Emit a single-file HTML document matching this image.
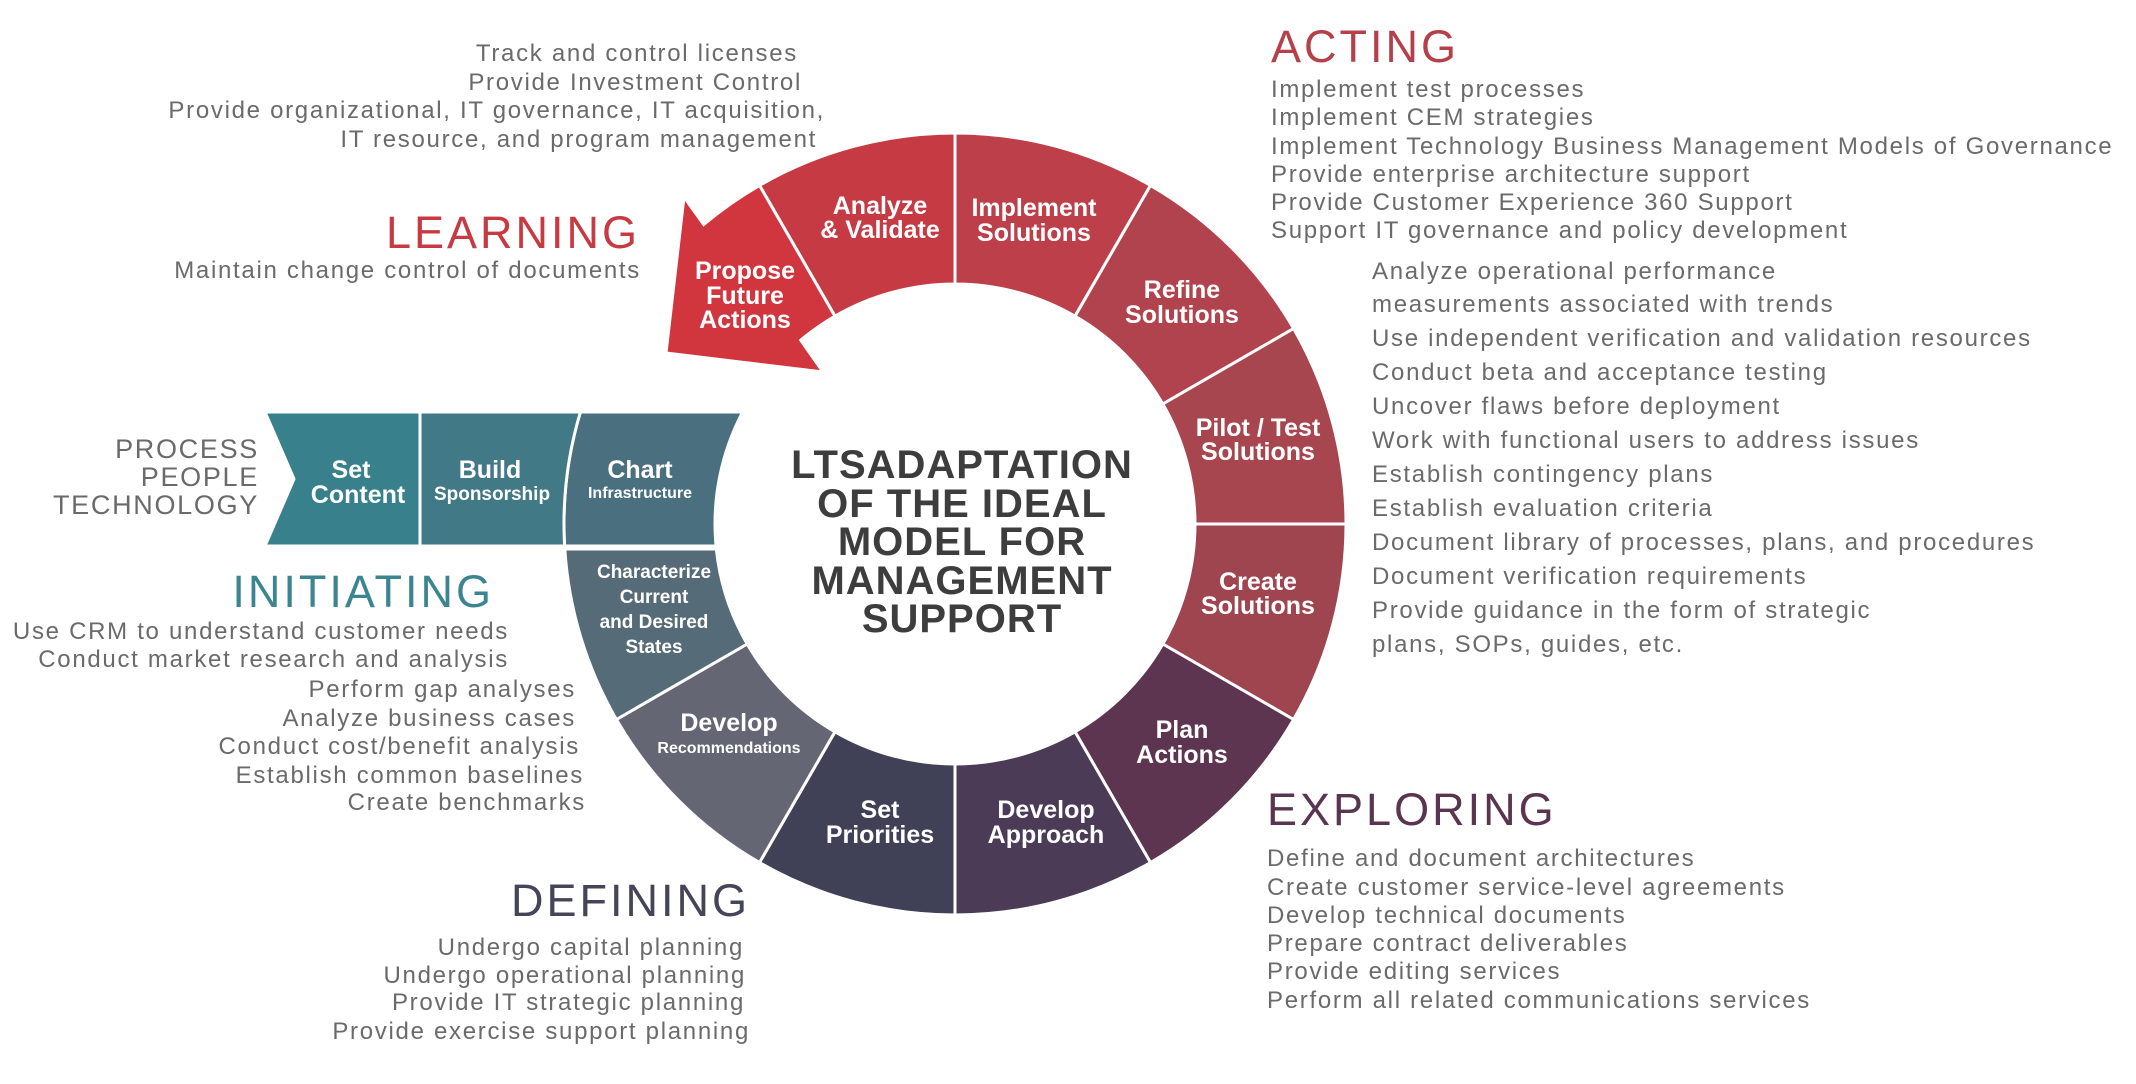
<!DOCTYPE html>
<html><head><meta charset="utf-8"><style>
html,body{margin:0;padding:0;background:#fff;}
svg{display:block;}
.b{font-family:"Liberation Sans",sans-serif;font-size:24px;fill:#6a6a6a;letter-spacing:1.7px;}
.h{font-family:"Liberation Sans",sans-serif;font-size:45px;letter-spacing:3px;}
.l{font-family:"Liberation Sans",sans-serif;font-weight:bold;fill:#fff;text-anchor:middle;}
.t{font-family:"Liberation Sans",sans-serif;font-weight:bold;fill:#3d3d3d;text-anchor:middle;font-size:40px;letter-spacing:1px;}
.s path{stroke:#fff;stroke-width:3;}
</style></head><body>
<svg width="2136" height="1084" viewBox="0 0 2136 1084" xmlns="http://www.w3.org/2000/svg">
<g class="s">
<path fill="#c63a43" d="M759.5,185.4 A391,391 0 0 1 955,133 L955,284 A240,240 0 0 0 835,316.2 Z"/>
<path fill="#bc3f49" d="M955,133 A391,391 0 0 1 1150.5,185.4 L1075,316.2 A240,240 0 0 0 955,284 Z"/>
<path fill="#b1434e" d="M1150.5,185.4 A391,391 0 0 1 1293.6,328.5 L1162.8,404 A240,240 0 0 0 1075,316.2 Z"/>
<path fill="#a8464f" d="M1293.6,328.5 A391,391 0 0 1 1346,524 L1195,524 A240,240 0 0 0 1162.8,404 Z"/>
<path fill="#9e4550" d="M1346,524 A391,391 0 0 1 1293.6,719.5 L1162.8,644 A240,240 0 0 0 1195,524 Z"/>
<path fill="#5d3550" d="M1293.6,719.5 A391,391 0 0 1 1150.5,862.6 L1075,731.8 A240,240 0 0 0 1162.8,644 Z"/>
<path fill="#4b3b56" d="M1150.5,862.6 A391,391 0 0 1 955,915 L955,764 A240,240 0 0 0 1075,731.8 Z"/>
<path fill="#404057" d="M955,915 A391,391 0 0 1 759.5,862.6 L835,731.8 A240,240 0 0 0 955,764 Z"/>
<path fill="#646674" d="M759.5,862.6 A391,391 0 0 1 616.4,719.5 L747.2,644 A240,240 0 0 0 835,731.8 Z"/>
<path fill="#556b78" d="M564.8,549 L716.3,549 A240,240 0 0 0 747.2,644 L616.4,719.5 A391,391 0 0 1 564.8,549 Z"/>
<path fill="#4a6f7e" d="M580.4,412 L742.7,412 A240,240 0 0 0 716,546 L564.6,546 A391,391 0 0 1 580.4,412 Z"/>
<path fill="#427986" d="M420,412 L580.4,412 A391,391 0 0 0 564.6,546 L420,546 Z"/>
<path fill="#38818c" d="M265,412 L420,412 L420,546 L265,546 L294,479 Z"/>
<path fill="#d1353d" d="M759.5,185.4 A391,391 0 0 0 703.7,224.5 L684,197 L666,353 L823,372 L800.7,340.2 A240,240 0 0 1 835,316.2 Z"/>
</g>
<g class="l" font-size="25">
<text x="880" y="214">Analyze</text><text x="880" y="238">&amp; Validate</text>
<text x="1034" y="216">Implement</text><text x="1034" y="241">Solutions</text>
<text x="1182" y="298">Refine</text><text x="1182" y="323">Solutions</text>
<text x="1258" y="436">Pilot / Test</text><text x="1258" y="460">Solutions</text>
<text x="1258" y="590">Create</text><text x="1258" y="614">Solutions</text>
<text x="1182" y="738">Plan</text><text x="1182" y="763">Actions</text>
<text x="1046" y="818">Develop</text><text x="1046" y="843">Approach</text>
<text x="880" y="818">Set</text><text x="880" y="843">Priorities</text>
<text x="729" y="731">Develop</text><text x="729" y="753" font-size="16">Recommendations</text>
<text x="745" y="279">Propose</text><text x="745" y="304">Future</text><text x="745" y="328">Actions</text>
<text x="640" y="478">Chart</text><text x="640" y="498" font-size="16">Infrastructure</text>
<text x="490" y="478">Build</text><text x="492" y="500" font-size="19">Sponsorship</text>
<text x="351" y="478">Set</text><text x="358" y="503">Content</text>
<g font-size="19"><text x="654" y="578">Characterize</text><text x="654" y="603">Current</text><text x="654" y="628">and Desired</text><text x="654" y="653">States</text></g>
</g>
<g class="t">
<text x="962" y="478">LTSADAPTATION</text>
<text x="962" y="517">OF THE IDEAL</text>
<text x="962" y="555">MODEL FOR</text>
<text x="962" y="594">MANAGEMENT</text>
<text x="962" y="632">SUPPORT</text>
</g>
<g class="b" text-anchor="end">
<text x="798" y="61">Track and control licenses</text>
<text x="802" y="90">Provide Investment Control</text>
<text x="825" y="118">Provide organizational, IT governance, IT acquisition,</text>
<text x="817" y="147">IT resource, and program management</text>
<text x="641" y="278">Maintain change control of documents</text>
<g font-size="27"><text x="259" y="458">PROCESS</text><text x="259" y="486">PEOPLE</text><text x="259" y="514">TECHNOLOGY</text></g>
<text x="509" y="639">Use CRM to understand customer needs</text>
<text x="509" y="667">Conduct market research and analysis</text>
<text x="576" y="697">Perform gap analyses</text>
<text x="576" y="726">Analyze business cases</text>
<text x="580" y="754">Conduct cost/benefit analysis</text>
<text x="584" y="783">Establish common baselines</text>
<text x="586" y="810">Create benchmarks</text>
<text x="744" y="955">Undergo capital planning</text>
<text x="746" y="983">Undergo operational planning</text>
<text x="745" y="1010">Provide IT strategic planning</text>
<text x="750" y="1039">Provide exercise support planning</text>
</g>
<g class="h" text-anchor="end">
<text x="640" y="248" fill="#c83a42">LEARNING</text>
<text x="494" y="607" fill="#3a8590">INITIATING</text>
<text x="750" y="916" fill="#45455a">DEFINING</text>
</g>
<g class="h">
<text x="1271" y="62" fill="#b5404a">ACTING</text>
<text x="1267" y="825" fill="#5a3550">EXPLORING</text>
</g>
<g class="b">
<text x="1271" y="97">Implement test processes</text>
<text x="1271" y="125">Implement CEM strategies</text>
<text x="1271" y="154">Implement Technology Business Management Models of Governance</text>
<text x="1271" y="182">Provide enterprise architecture support</text>
<text x="1271" y="210">Provide Customer Experience 360 Support</text>
<text x="1271" y="238">Support IT governance and policy development</text>
<text x="1372" y="279">Analyze operational performance</text>
<text x="1372" y="312">measurements associated with trends</text>
<text x="1372" y="346">Use independent verification and validation resources</text>
<text x="1372" y="380">Conduct beta and acceptance testing</text>
<text x="1372" y="414">Uncover flaws before deployment</text>
<text x="1372" y="448">Work with functional users to address issues</text>
<text x="1372" y="482">Establish contingency plans</text>
<text x="1372" y="516">Establish evaluation criteria</text>
<text x="1372" y="550">Document library of processes, plans, and procedures</text>
<text x="1372" y="584">Document verification requirements</text>
<text x="1372" y="618">Provide guidance in the form of strategic</text>
<text x="1372" y="652">plans, SOPs, guides, etc.</text>
<text x="1267" y="866">Define and document architectures</text>
<text x="1267" y="895">Create customer service-level agreements</text>
<text x="1267" y="923">Develop technical documents</text>
<text x="1267" y="951">Prepare contract deliverables</text>
<text x="1267" y="979">Provide editing services</text>
<text x="1267" y="1008">Perform all related communications services</text>
</g>
</svg>
</body></html>
